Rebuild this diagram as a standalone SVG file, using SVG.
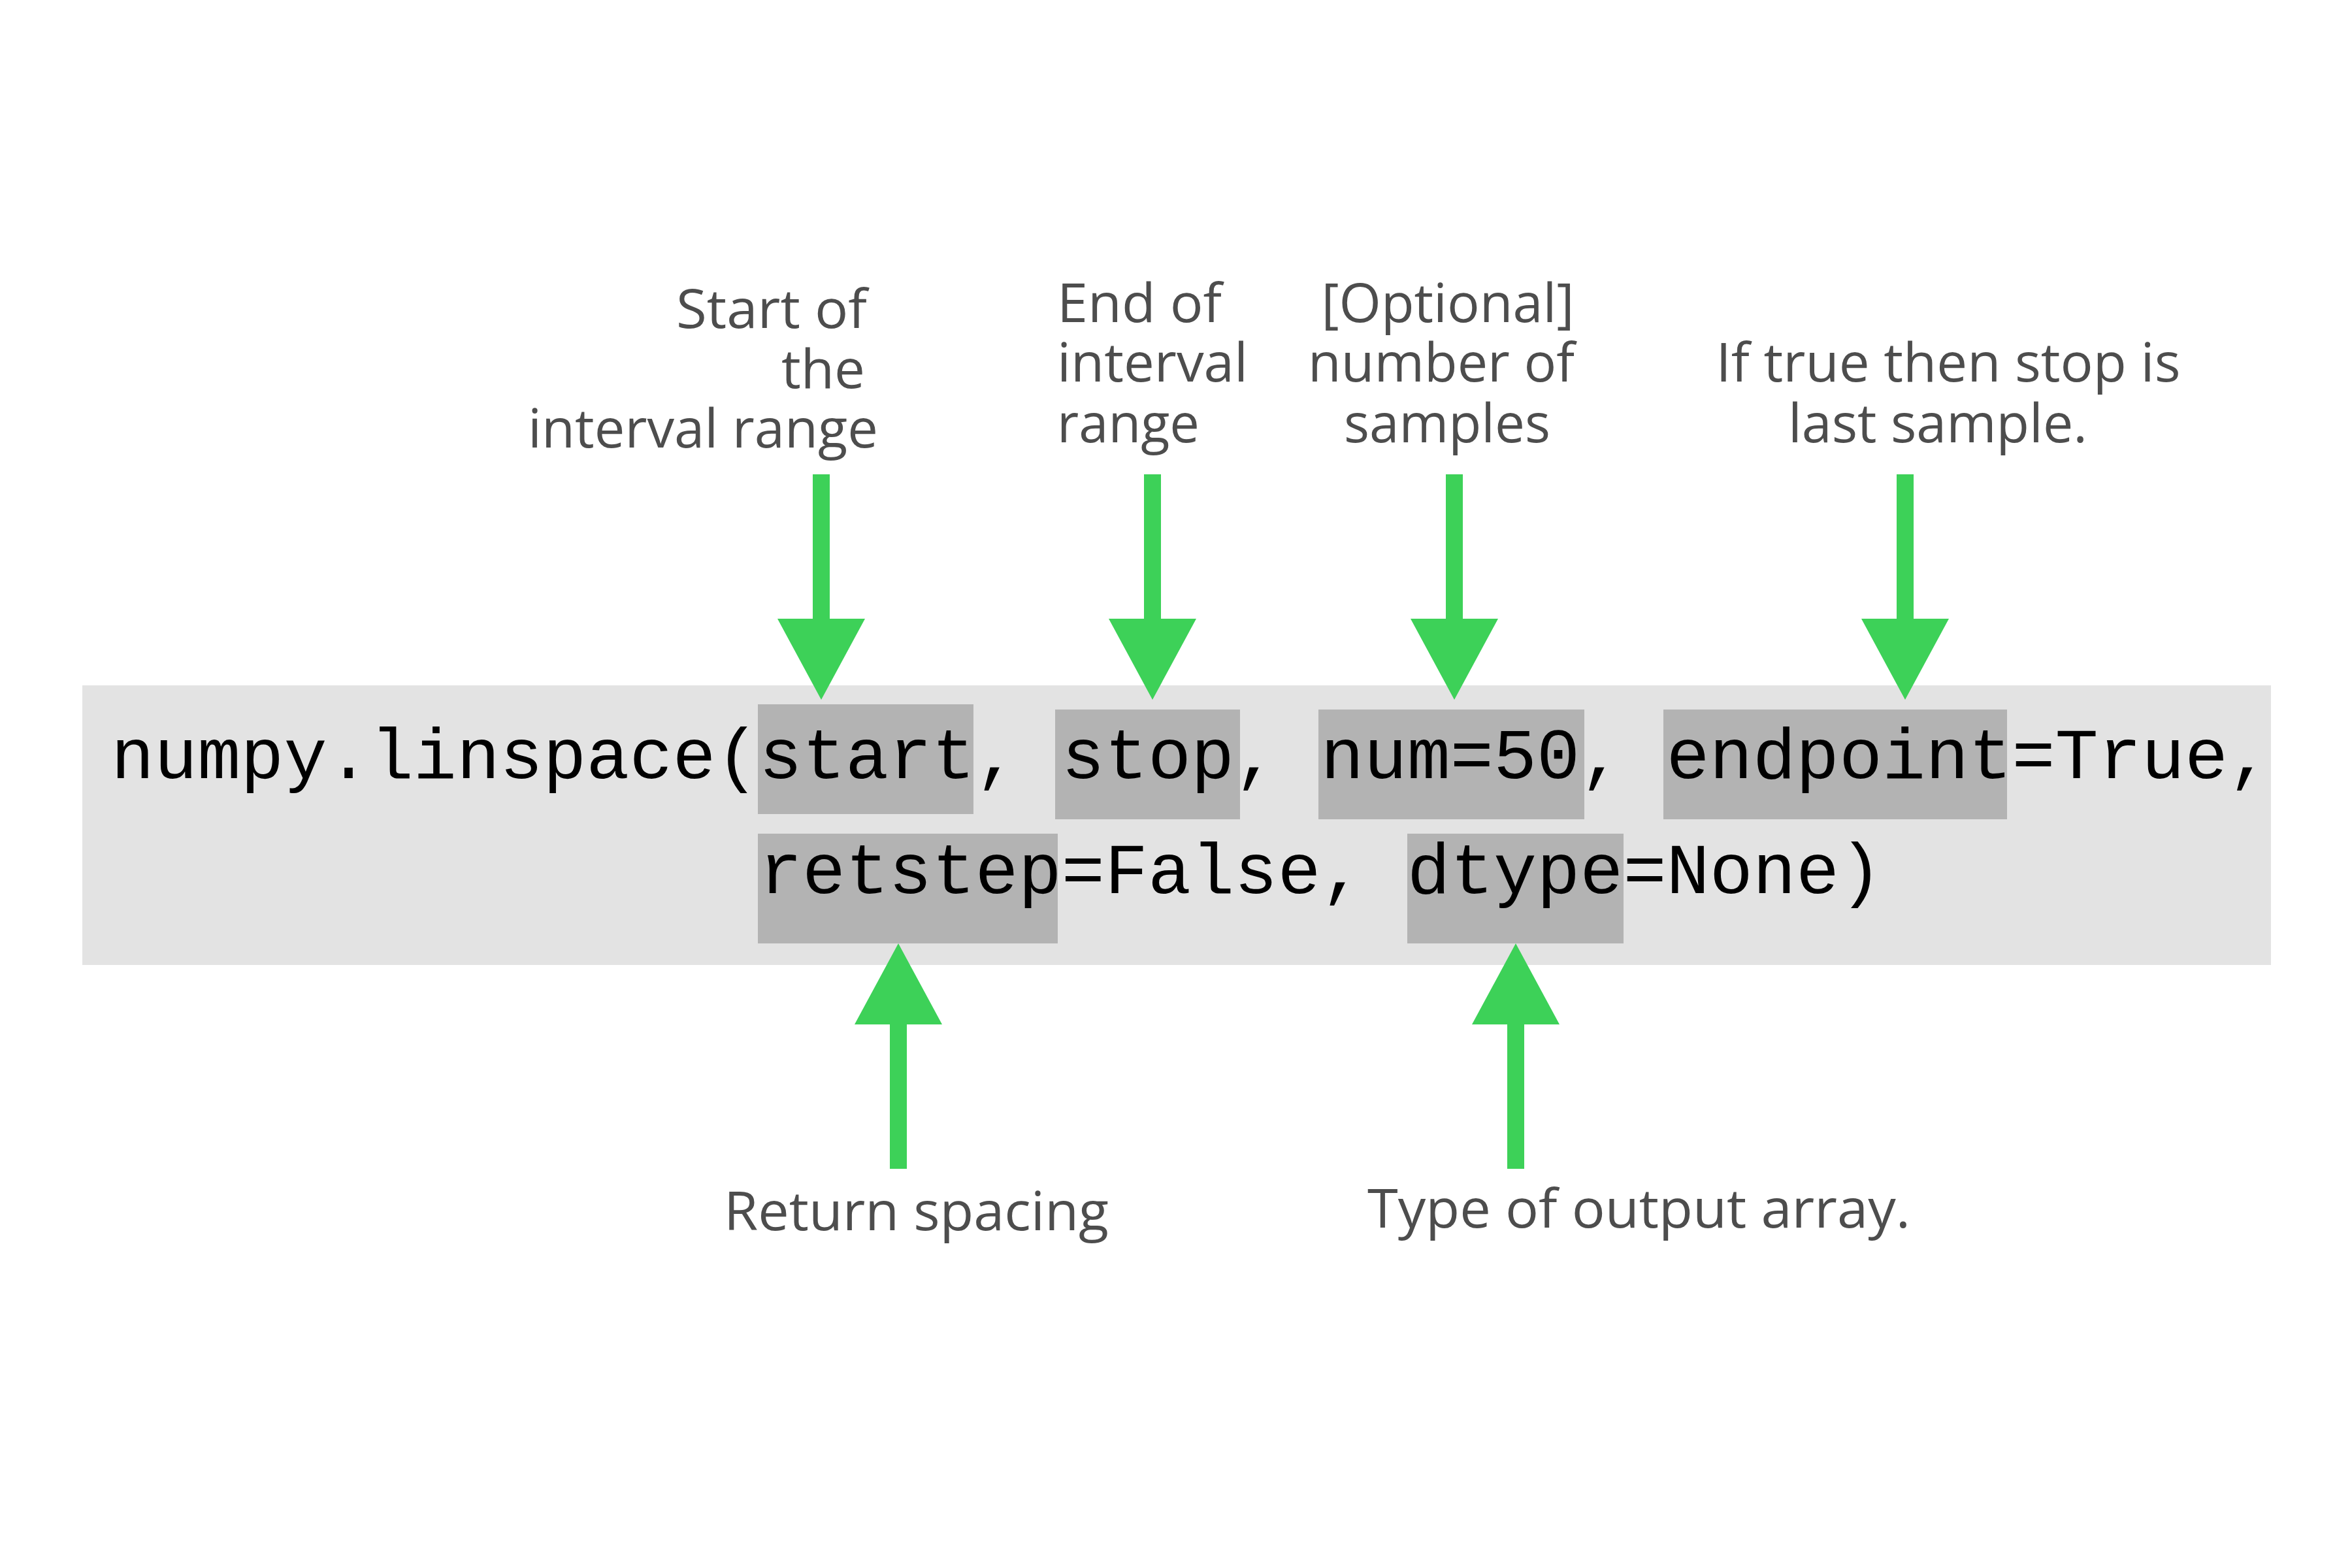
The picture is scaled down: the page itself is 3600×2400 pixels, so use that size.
<svg xmlns="http://www.w3.org/2000/svg" width="3600" height="2400" viewBox="0 0 3600 2400">
<style>
.bg{fill:#e3e3e3}
.hl{fill:#b3b3b3}
.code{font-family:"Liberation Mono","Courier New",monospace;font-size:110.2px;fill:#000}
.lbl{font-family:"Open Sans","Noto Sans",sans-serif;font-size:82px;fill:#4d4d4d}
.arrow{fill:#3dd158}
</style>
<defs>
<path id="arr" d="M-13,-345 h26 v221 h54 L0,0 L-67,-124 h54 z"/>
</defs>
<rect width="3600" height="2400" fill="#fff"/>
<g id="code-box">
<rect class="bg" x="126" y="1049" width="3350" height="428"/>
<rect class="hl" x="1160" y="1078" width="330" height="168"/>
<rect class="hl" x="1615" y="1086" width="283" height="168"/>
<rect class="hl" x="2018" y="1086" width="407" height="168"/>
<rect class="hl" x="2546" y="1086" width="526" height="168"/>
<rect class="hl" x="1160" y="1276" width="459" height="168"/>
<rect class="hl" x="2154" y="1276" width="331" height="168"/>
<text class="code" x="170" y="1191" xml:space="preserve">numpy.linspace(start, stop, num=50, endpoint=True,</text>
<text class="code" x="1162" y="1367" xml:space="preserve">retstep=False, dtype=None)</text>
</g>
<g id="label-start">
<text class="lbl" text-anchor="end" x="1327" y="502" textLength="292" lengthAdjust="spacingAndGlyphs">Start of</text>
<text class="lbl" text-anchor="end" x="1324" y="594" textLength="128" lengthAdjust="spacingAndGlyphs">the</text>
<text class="lbl" text-anchor="end" x="1344" y="685" textLength="536" lengthAdjust="spacingAndGlyphs">interval range</text>
</g>
<g id="label-stop">
<text class="lbl" x="1618" y="493" textLength="252" lengthAdjust="spacingAndGlyphs">End of</text>
<text class="lbl" x="1618" y="584" textLength="292" lengthAdjust="spacingAndGlyphs">interval</text>
<text class="lbl" x="1618" y="677" textLength="218" lengthAdjust="spacingAndGlyphs">range</text>
</g>
<g id="label-num">
<text class="lbl" text-anchor="middle" x="2216" y="493" textLength="387" lengthAdjust="spacingAndGlyphs">[Optional]</text>
<text class="lbl" text-anchor="middle" x="2206" y="584" textLength="408" lengthAdjust="spacingAndGlyphs">number of</text>
<text class="lbl" text-anchor="middle" x="2215" y="677" textLength="316" lengthAdjust="spacingAndGlyphs">samples</text>
</g>
<g id="label-endpoint">
<text class="lbl" text-anchor="middle" x="2982" y="584" textLength="711" lengthAdjust="spacingAndGlyphs">If true then stop is</text>
<text class="lbl" text-anchor="middle" x="2966" y="677" textLength="458" lengthAdjust="spacingAndGlyphs">last sample.</text>
</g>
<g id="label-retstep">
<text class="lbl" x="1108" y="1883" textLength="589" lengthAdjust="spacingAndGlyphs">Return spacing</text>
</g>
<g id="label-dtype">
<text class="lbl" x="2093" y="1879" textLength="831" lengthAdjust="spacingAndGlyphs">Type of output array.</text>
</g>
<g id="connectors">
<use href="#arr" class="arrow" transform="translate(1257,1071)"/>
<use href="#arr" class="arrow" transform="translate(1764,1071)"/>
<use href="#arr" class="arrow" transform="translate(2226,1071)"/>
<use href="#arr" class="arrow" transform="translate(2916,1071)"/>
<use href="#arr" class="arrow" transform="translate(1375,1444) rotate(180)"/>
<use href="#arr" class="arrow" transform="translate(2320,1444) rotate(180)"/>
</g>
</svg>
